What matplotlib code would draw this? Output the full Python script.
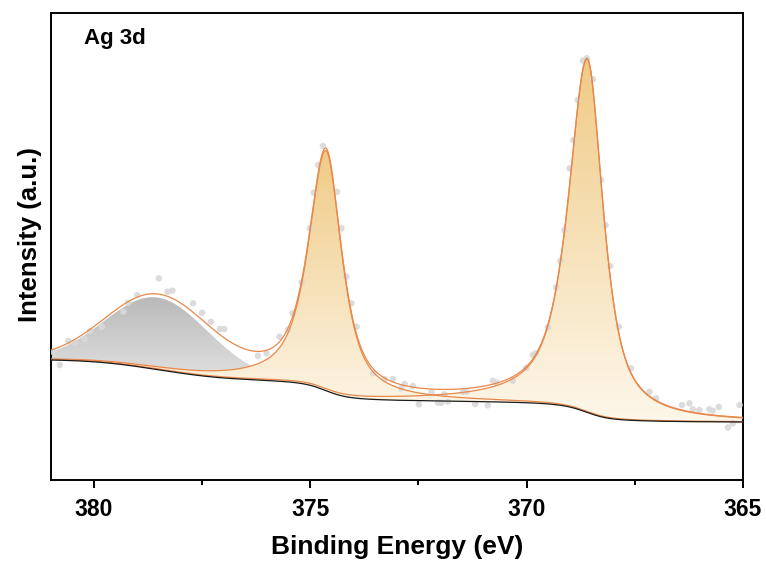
import numpy as np
import matplotlib.pyplot as plt
from matplotlib.colors import LinearSegmentedColormap
from matplotlib.ticker import MultipleLocator

plt.rcParams['font.family'] = ['Liberation Sans', 'DejaVu Sans']
plt.rcParams['font.weight'] = 'bold'

data_be = [380.94, 380.79, 380.59, 380.44, 380.21, 380.09, 379.82, 379.32, 379.21, 379.00,
           378.50, 378.30, 378.19, 377.71, 377.50, 377.30, 377.09, 376.99, 376.21, 376.01,
           375.71, 375.51, 375.41, 375.20, 375.01, 374.92, 374.82, 374.71, 374.38, 374.28,
           374.17, 374.05, 373.93, 373.55, 373.28, 373.09, 372.90, 372.82, 372.63, 372.49,
           372.20, 372.05, 371.97, 371.90, 371.82, 371.47, 371.39, 371.19, 370.90, 370.78,
           370.70, 370.32, 370.01, 369.86, 369.79, 369.51, 369.32, 369.22, 369.13, 369.01,
           368.92, 368.82, 368.70, 368.61, 368.47, 368.28, 368.18, 368.07, 367.87, 367.59,
           367.16, 367.01, 366.41, 366.24, 366.16, 366.01, 365.78, 365.70, 365.56, 365.35,
           365.24, 365.08]
data_int = [128.0, 115.0, 139.0, 137.3, 141.0, 149.0, 153.3, 168.3, 177.3, 185.0,
            201.7, 188.3, 189.3, 176.7, 167.3, 158.3, 151.0, 151.0, 124.3, 126.7,
            143.3, 150.5, 166.7, 197.5, 251.7, 287.3, 315.0, 334.0, 288.3, 251.7,
            203.3, 176.7, 153.3, 106.7, 101.0, 101.0, 91.7, 96.0, 94.0, 75.7,
            87.7, 77.3, 77.3, 85.7, 78.3, 88.3, 88.3, 76.0, 74.7, 99.3,
            97.3, 99.3, 112.2, 125.0, 126.7, 152.7, 192.7, 219.3, 250.0, 311.7,
            340.0, 380.0, 419.3, 421.7, 400.7, 300.0, 255.0, 214.0, 153.3, 111.7,
            88.3, 81.7, 75.0, 76.7, 70.7, 70.0, 70.7, 69.3, 73.0, 52.5,
            56.7, 75.0]

# fitted components: broad satellite, Ag 3d3/2, Ag 3d5/2
peak_center = [378.52, 374.64, 368.60]
peak_height = [72.0, 240.0, 353.0]
peak_hwhm_hi = [1.40, 0.48, 0.52]   # half width on the high BE side
peak_hwhm_lo = [1.40, 0.44, 0.44]   # half width on the low BE side
peak_eta = [0.0, 0.8, 0.8]          # lorentzian fraction
peak_top = ['#B9B9B9', '#F0CB86', '#F0CB86']
peak_bottom = ['#E6E6E6', '#FDF7EA', '#FDF7EA']

# background: level at the low BE end plus a step for each component
bg_low = 58.0
bg_step = [19.0, 22.0, 21.0]


def pseudo_voigt(e, c, h, w_hi, w_lo, eta):
    w = np.where(e >= c, w_hi, w_lo)
    d = (e - c) / w
    return h * (eta / (1 + d ** 2) + (1 - eta) * np.exp(-np.log(2) * d ** 2))


energy = np.linspace(365, 381, 1601)
peaks = [pseudo_voigt(energy, c, h, wh, wl, et)
         for c, h, wh, wl, et in zip(peak_center, peak_height, peak_hwhm_hi, peak_hwhm_lo, peak_eta)]

# shirley type background, each step follows the area of its peak
background = np.full_like(energy, bg_low)
for p, s in zip(peaks, bg_step):
    cum = np.cumsum(p)
    background += s * cum / cum[-1]
envelope = background + np.sum(peaks, axis=0)

fig = plt.figure(figsize=(7.66, 5.64), dpi=100)
ax = fig.add_axes([0.0662, 0.1489, 0.9038, 0.8286])

line_col = '#E8884A'
grad = np.linspace(0, 1, 256).reshape(-1, 1)
for i, p in enumerate(peaks):
    top = background + p
    poly = ax.fill_between(energy, background, top, facecolor='none', edgecolor='none')
    mask = p > 0.3
    lo = background[mask].min()
    hi = top.max()
    cmap = LinearSegmentedColormap.from_list('g%d' % i, [peak_bottom[i], peak_top[i]])
    im = ax.imshow(grad, origin='lower', aspect='auto', cmap=cmap,
                   extent=[365, 381, lo, hi], zorder=1 + i * 0.1)
    im.set_clip_path(poly.get_paths()[0], transform=ax.transData)
    if i > 0:
        ax.plot(energy, top, color=line_col, lw=0.9, zorder=4)

ax.scatter(data_be, data_int, s=22, color='#D9D9D9', edgecolors='none', alpha=0.9, zorder=3)
ax.plot(energy, background, color='#1A1A1A', lw=0.9, zorder=4)
ax.plot(energy, envelope, color=line_col, lw=0.9, zorder=5)

ax.set_xlim(381, 365)
ax.set_ylim(0, 467.3)
ax.set_xticks([380, 375, 370, 365])
ax.xaxis.set_minor_locator(MultipleLocator(2.5))
ax.set_yticks([])
ax.tick_params(axis='x', which='major', direction='out', length=6, width=1.4, labelsize=16.5, pad=7)
ax.tick_params(axis='x', which='minor', direction='out', length=3.5, width=1.4)
for sp in ax.spines.values():
    sp.set_linewidth(1.4)

ax.set_xlabel('Binding Energy (eV)', fontsize=19, fontweight='bold', labelpad=10)
ax.set_ylabel('Intensity (a.u.)', fontsize=18.5, fontweight='bold')
ax.yaxis.set_label_coords(-0.013, 0.525)
ax.text(0.0485, 0.932, 'Ag 3d', transform=ax.transAxes, fontsize=16, fontweight='bold')

fig.savefig('out.png', dpi=100)
